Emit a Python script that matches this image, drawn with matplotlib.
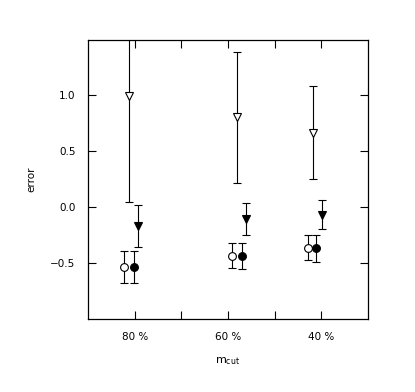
import matplotlib
matplotlib.use("Agg")
import matplotlib.pyplot as plt
from matplotlib.ticker import FixedLocator

# tick categories
categories = ["80 %", "60 %", "40 %"]
cat_pos = [1, 2, 3]

# series: x positions (in category units), values, symmetric errors
open_tri_x = [0.94, 2.097, 2.906]
open_tri_y = [0.99, 0.80, 0.663]
open_tri_err = [0.945, 0.585, 0.415]

filled_tri_x = [1.039, 2.198, 3.003]
filled_tri_y = [-0.17, -0.107, -0.071]
filled_tri_err = [0.19, 0.145, 0.13]

open_circ_x = [0.885, 2.043, 2.852]
open_circ_y = [-0.536, -0.435, -0.363]
open_circ_err = [0.142, 0.112, 0.112]

filled_circ_x = [0.996, 2.147, 2.946]
filled_circ_y = [-0.536, -0.438, -0.369]
filled_circ_err = [0.142, 0.12, 0.12]

plt.rcParams['font.family'] = ['DejaVu Sans']
fig = plt.figure(figsize=(4.15, 3.92), dpi=100)
ax = fig.add_axes([88/415, 1-319/392, 280/415, 279/392])

common = dict(ls='none', ecolor='black', elinewidth=0.8, capsize=3.2,
              capthick=0.8, mec='black', mew=0.8)
ax.errorbar(open_tri_x, open_tri_y, yerr=open_tri_err, fmt='v', ms=5.8,
            mfc='white', **common)
ax.errorbar(filled_tri_x, filled_tri_y, yerr=filled_tri_err, fmt='v', ms=5.8,
            mfc='black', **common)
ax.errorbar(open_circ_x, open_circ_y, yerr=open_circ_err, fmt='o', ms=5.6,
            mfc='white', **common)
ax.errorbar(filled_circ_x, filled_circ_y, yerr=filled_circ_err, fmt='o', ms=5.6,
            mfc='black', **common)

ax.set_xlim(0.5, 3.5)
ax.set_ylim(-1.0, 1.49)
ax.set_xticks(cat_pos)
ax.set_xticklabels(categories)
ax.xaxis.set_minor_locator(FixedLocator([1.5, 2.5]))
ax.set_yticks([-0.5, 0.0, 0.5, 1.0])
ax.set_yticklabels(['\u22120.5', '0.0', '0.5', '1.0'])

ax.tick_params(axis='both', which='both', direction='in', top=True, right=True,
               length=5.5, width=0.8, labelsize=7.5, pad=9)
ax.tick_params(axis='y', which='minor', left=False, right=False)
for s in ax.spines.values():
    s.set_linewidth(0.9)

ax.set_xlabel(r'$\mathregular{m_{cut}}$', fontsize=8, labelpad=10)
ax.set_ylabel('error', fontsize=7.5, labelpad=10)

fig.savefig('out.png', dpi=100)
